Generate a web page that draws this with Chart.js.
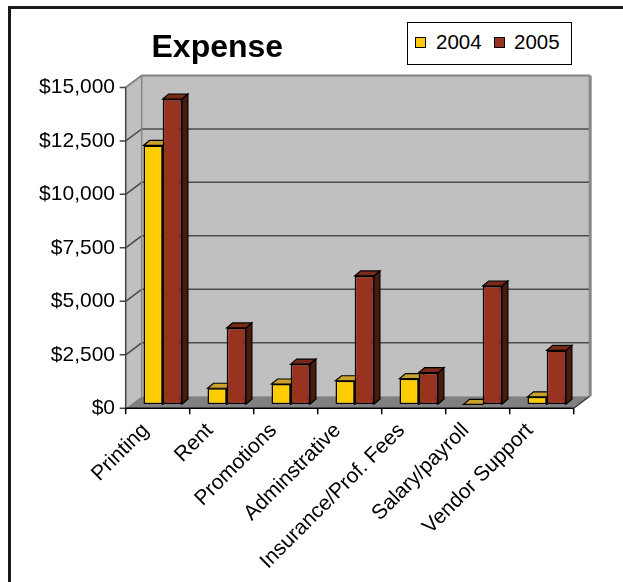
<!DOCTYPE html>
<html>
<head>
<meta charset="utf-8">
<script src="https://cdn.jsdelivr.net/npm/chart.js@4.4.1/dist/chart.umd.min.js"></script>
<style>
html,body{margin:0;padding:0;background:#fff;}
#wrap{position:relative;width:623px;height:582px;overflow:hidden;font-family:"Liberation Sans",Arial,sans-serif;color:#000;}
#frame{position:absolute;left:8px;top:6px;width:800px;height:800px;border:3px solid #1a1a1a;box-sizing:border-box;}
#c{position:absolute;left:0;top:0;}
#title{position:absolute;left:151.5px;top:30.2px;font-weight:bold;font-size:32px;line-height:32px;white-space:nowrap;}
#legend{position:absolute;left:407px;top:22px;width:165px;height:43px;border:1px solid #000;box-sizing:border-box;background:#fff;}
.sw{position:absolute;width:11px;height:11px;border:1px solid #000;box-sizing:border-box;}
.lt{position:absolute;font-size:20.5px;line-height:20.5px;white-space:nowrap;}
</style>
</head>
<body>
<div id="wrap">
  <div id="frame"></div>
  <canvas id="c" width="623" height="582"></canvas>
  <div id="title">Expense</div>
  <div id="legend"></div>
  <div class="sw" style="left:415px;top:37.3px;background:#FFCC00"></div>
  <div class="lt" style="left:436px;top:32px">2004</div>
  <div class="sw" style="left:493.5px;top:37.3px;background:#993321"></div>
  <div class="lt" style="left:514px;top:32px">2005</div>
</div>
<script>
const categories = ['Printing', 'Rent', 'Promotions', 'Adminstrative', 'Insurance/Prof. Fees', 'Salary/payroll', 'Vendor Support'];
const values2004 = [12100, 750, 950, 1100, 1200, 0, 350];
const values2005 = [14270, 3570, 1880, 6000, 1480, 5530, 2520];
const seriesNames = ['2004', '2005'];
const yMin = 0, yMax = 15000, yStep = 2500;

const FONT = "'Liberation Sans', Arial, sans-serif";
// 3D offsets relative to bar plane
const FX = -5, FY = 4, BX = 11, BY = -8, DX = 6, DY = 5;

function poly(ctx, pts) {
  ctx.beginPath();
  ctx.moveTo(pts[0][0], pts[0][1]);
  for (let i = 1; i < pts.length; i++) ctx.lineTo(pts[i][0], pts[i][1]);
  ctx.closePath();
}

const threeD = {
  id: 'threeD',
  beforeDatasetsDraw(chart) {
    const ctx = chart.ctx;
    const {left: L, right: R, top: T, bottom: B} = chart.chartArea;
    const ys = chart.scales.y;
    ctx.save();
    // side wall
    ctx.fillStyle = '#c0c0c0';
    poly(ctx, [[L + FX, B + FY], [L + FX, T + FY], [L + BX, T + BY], [L + BX, B + BY]]);
    ctx.fill();
    // back wall
    ctx.fillRect(L + BX, T + BY, R - L, B - T);
    // floor
    ctx.fillStyle = '#808080';
    poly(ctx, [[L + FX, B + FY], [R + FX, B + FY], [R + BX, B + BY], [L + BX, B + BY]]);
    ctx.fill();
    // gridlines
    ctx.strokeStyle = '#4a4a4a';
    ctx.lineWidth = 1.5;
    ys.ticks.forEach(t => {
      if (t.value === yMin) return;
      const py = ys.getPixelForValue(t.value);
      ctx.beginPath();
      ctx.moveTo(L + FX, py + FY);
      ctx.lineTo(L + BX, py + BY);
      ctx.lineTo(R + BX, py + BY);
      ctx.stroke();
    });
    // wall edges
    ctx.strokeStyle = '#888888';
    ctx.lineWidth = 1.5;
    ctx.beginPath();
    ctx.moveTo(L + FX, T + FY); ctx.lineTo(L + BX, T + BY); ctx.lineTo(R + BX, T + BY);
    ctx.moveTo(L + BX, T + BY); ctx.lineTo(L + BX, B + BY);
    ctx.stroke();
    ctx.lineWidth = 3;
    ctx.beginPath();
    ctx.moveTo(R + BX + 0.5, T + BY); ctx.lineTo(R + BX + 0.5, B + BY);
    ctx.stroke();
    // floor right edge
    ctx.strokeStyle = '#333333';
    ctx.lineWidth = 1.2;
    ctx.beginPath();
    ctx.moveTo(R + FX, B + FY); ctx.lineTo(R + BX, B + BY);
    ctx.stroke();
    // front y axis and ticks
    ctx.strokeStyle = '#444444';
    ctx.lineWidth = 1.5;
    ctx.beginPath();
    ctx.moveTo(L + FX, T + FY); ctx.lineTo(L + FX, B + FY);
    ys.ticks.forEach(t => {
      const py = ys.getPixelForValue(t.value) + FY;
      ctx.moveTo(L + FX - 6, py); ctx.lineTo(L + FX, py);
    });
    ctx.stroke();
    // front x axis and ticks
    ctx.strokeStyle = '#000000';
    ctx.beginPath();
    ctx.moveTo(L + FX, B + FY); ctx.lineTo(R + FX, B + FY);
    const n = categories.length;
    for (let i = 0; i <= n; i++) {
      const px = L + FX + (R - L) * i / n;
      ctx.moveTo(px, B + FY); ctx.lineTo(px, B + FY + 6);
    }
    ctx.stroke();
    // bar top and side faces
    ctx.lineWidth = 1.2;
    ctx.strokeStyle = '#000';
    chart.data.datasets.forEach((ds, i) => {
      const meta = chart.getDatasetMeta(i);
      meta.data.forEach(bar => {
        const p = bar.getProps(['x', 'y', 'base', 'width'], true);
        const x0 = p.x - p.width / 2, x1 = p.x + p.width / 2;
        ctx.fillStyle = ds.sideColor;
        poly(ctx, [[x1, p.y], [x1 + DX, p.y - DY], [x1 + DX, p.base - DY], [x1, p.base]]);
        ctx.fill(); ctx.stroke();
        ctx.fillStyle = ds.topColor;
        poly(ctx, [[x0, p.y], [x1, p.y], [x1 + DX, p.y - DY], [x0 + DX, p.y - DY]]);
        ctx.fill(); ctx.stroke();
      });
    });
    ctx.restore();
  }
};

new Chart(document.getElementById('c'), {
  type: 'bar',
  data: {
    labels: categories,
    datasets: [
      {label: seriesNames[0], data: values2004, backgroundColor: '#FFCC00', borderColor: '#000', borderWidth: 1.5, borderSkipped: false, topColor: '#C9A22E', sideColor: '#8C7000'},
      {label: seriesNames[1], data: values2005, backgroundColor: '#993321', borderColor: '#000', borderWidth: 1.5, borderSkipped: false, topColor: '#7A2A18', sideColor: '#4A1A0C'}
    ]
  },
  options: {
    responsive: false,
    animation: false,
    devicePixelRatio: 1,
    layout: {padding: {left: 0, right: 44.3, top: 83.4, bottom: 0}},
    datasets: {bar: {categoryPercentage: 0.6, barPercentage: 1}},
    plugins: {legend: {display: false}, title: {display: false}, tooltip: {enabled: false}},
    scales: {
      x: {
        grid: {display: false, drawTicks: false},
        border: {display: false},
        ticks: {minRotation: 45, maxRotation: 45, autoSkip: false, labelOffset: -17, padding: 14, color: '#000', font: {family: FONT, size: 21}},
        afterFit(s) { s.height = 177.7; }
      },
      y: {
        min: yMin, max: yMax,
        grid: {display: false, drawTicks: false},
        border: {display: false},
        ticks: {stepSize: yStep, padding: 15.7, labelOffset: 4, color: '#000', font: {family: FONT, size: 21},
          callback: v => '$' + Number(v).toLocaleString('en-US')},
        afterFit(s) { s.width = 130.7; }
      }
    }
  },
  plugins: [threeD]
});
</script>
</body>
</html>
